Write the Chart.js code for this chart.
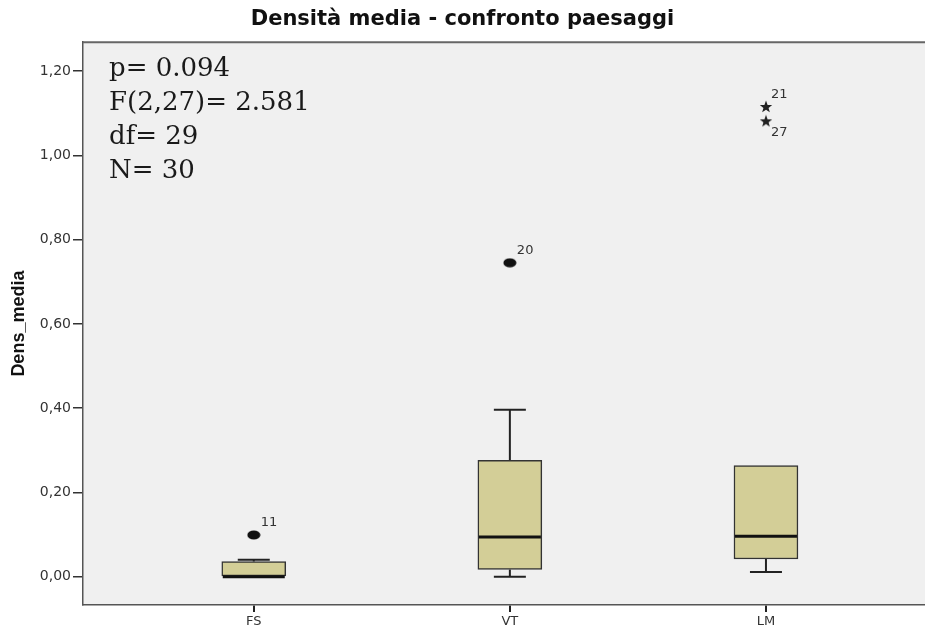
<!DOCTYPE html>
<html>
<head>
<meta charset="utf-8">
<script src="https://cdn.jsdelivr.net/npm/chart.js@4.4.1/dist/chart.umd.min.js"></script>
<style>
html,body{margin:0;padding:0;background:#ffffff;}
canvas{display:block;}
</style>
</head>
<body>
<canvas id="c" width="925" height="627"></canvas>
<script>
// ---- data ----
const categories   = ['FS', 'VT', 'LM'];
const whiskerLow   = [0.000, 0.000, 0.011];
const q1           = [0.000, 0.017, 0.042];
const median       = [0.000, 0.094, 0.096];
const q3           = [0.036, 0.276, 0.264];
const whiskerHigh  = [0.040, 0.396, 0.264];

const outlierCategory = ['FS', 'VT', 'LM', 'LM'];
const outlierValue    = [0.099, 0.745, 1.116, 1.082];
const outlierId       = ['11', '20', '21', '27'];
const outlierKind     = ['circle', 'circle', 'star', 'star'];

const yTicks = [0.0, 0.2, 0.4, 0.6, 0.8, 1.0, 1.2];
const annotationLines = ['p= 0.094', 'F(2,27)= 2.581', 'df= 29', 'N= 30'];
const chartTitle = 'Densità media - confronto paesaggi';
const yTitle = 'Dens_media';

// ---- marker images ----
function makeDot() {
  const c = document.createElement('canvas');
  c.width = 14; c.height = 10;
  const g = c.getContext('2d');
  g.fillStyle = '#111';
  g.beginPath();
  g.ellipse(7, 5, 6.5, 4.5, 0, 0, Math.PI * 2);
  g.fill();
  return c;
}
function makeStar() {
  const c = document.createElement('canvas');
  c.width = 14; c.height = 13;
  const g = c.getContext('2d');
  g.fillStyle = '#222';
  g.beginPath();
  const cx = 7, cy = 7.1, R = 6.5, r = 2.7;
  for (let k = 0; k < 10; k++) {
    const ang = -Math.PI / 2 + k * Math.PI / 5;
    const rad = (k % 2 === 0) ? R : r;
    const px = cx + rad * Math.cos(ang), py = cy + rad * Math.sin(ang);
    if (k === 0) g.moveTo(px, py); else g.lineTo(px, py);
  }
  g.closePath();
  g.fill();
  return c;
}
const dotImg = makeDot();
const starImg = makeStar();

const catIndex = (name) => categories.indexOf(name) + 1;

// ---- custom drawing for box-plot parts ----
const boxParts = {
  id: 'boxParts',
  beforeDraw(chart) {
    const {ctx, chartArea: a} = chart;
    ctx.save();
    ctx.fillStyle = '#f0f0f0';
    ctx.fillRect(a.left, a.top, a.right - a.left, a.bottom - a.top);
    ctx.restore();
  },
  beforeDatasetsDraw(chart) {
    const {ctx, scales: {x, y}} = chart;
    ctx.save();
    ctx.strokeStyle = '#222';
    ctx.lineWidth = 2;
    categories.forEach((c, i) => {
      const cx = x.getPixelForValue(i + 1);
      [[q3[i], whiskerHigh[i]], [q1[i], whiskerLow[i]]].forEach(([from, to]) => {
        if (to === from) return;
        const py0 = y.getPixelForValue(from), py1 = y.getPixelForValue(to);
        ctx.beginPath(); ctx.moveTo(cx, py0); ctx.lineTo(cx, py1); ctx.stroke();
        ctx.beginPath(); ctx.moveTo(cx - 16, py1); ctx.lineTo(cx + 16, py1); ctx.stroke();
      });
    });
    ctx.restore();
  },
  afterDatasetsDraw(chart) {
    const {ctx, chartArea: a, scales: {x, y}} = chart;
    ctx.save();
    // medians
    ctx.strokeStyle = '#111';
    ctx.lineWidth = 3;
    categories.forEach((c, i) => {
      const cx = x.getPixelForValue(i + 1);
      const py = y.getPixelForValue(median[i]);
      ctx.beginPath(); ctx.moveTo(cx - 31, py); ctx.lineTo(cx + 31, py); ctx.stroke();
    });
    // outlier case labels
    ctx.fillStyle = '#333';
    ctx.font = '13px "DejaVu Sans"';
    ctx.textAlign = 'left';
    ctx.textBaseline = 'middle';
    outlierValue.forEach((v, i) => {
      const px = x.getPixelForValue(catIndex(outlierCategory[i]));
      const py = y.getPixelForValue(v);
      const higherNeighbour = outlierValue.some((w, j) => j !== i &&
        outlierCategory[j] === outlierCategory[i] && w > v && w - v < 0.06);
      const dy = higherNeighbour ? 12 : -12;
      const dx = outlierKind[i] === 'star' ? 5 : 7;
      ctx.fillText(outlierId[i], px + dx, py + dy);
    });
    // statistics annotation
    ctx.fillStyle = '#1a1a1a';
    ctx.font = '26px "DejaVu Serif"';
    ctx.textBaseline = 'alphabetic';
    annotationLines.forEach((t, i) => {
      ctx.fillText(t, a.left + 26, a.top + 34 + i * 34);
    });
    ctx.restore();
  },
  afterDraw(chart) {
    const {ctx, chartArea: a} = chart;
    ctx.save();
    ctx.strokeStyle = '#666';
    ctx.lineWidth = 2;
    ctx.beginPath(); ctx.moveTo(a.left, a.top); ctx.lineTo(a.right, a.top); ctx.stroke();
    ctx.restore();
  }
};

new Chart(document.getElementById('c'), {
  type: 'bar',
  data: {
    datasets: [
      {
        type: 'scatter',
        data: outlierValue.map((v, i) => ({x: catIndex(outlierCategory[i]), y: v})),
        pointStyle: outlierKind.map(k => k === 'star' ? starImg : dotImg),
        pointRadius: 5,
        showLine: false
      },
      {
        type: 'bar',
        data: categories.map((c, i) => ({x: i + 1, y: [q1[i], q3[i]]})),
        backgroundColor: '#d3ce97',
        borderColor: '#333',
        borderWidth: 1.5,
        borderSkipped: false,
        barThickness: 64
      }
    ]
  },
  options: {
    responsive: false,
    animation: false,
    events: [],
    layout: {padding: 0, autoPadding: false},
    plugins: {
      legend: {display: false},
      tooltip: {enabled: false},
      title: {
        display: true,
        text: chartTitle,
        color: '#111',
        font: {family: '"DejaVu Sans"', size: 21, weight: 'bold'},
        padding: {top: 7, bottom: 10}
      }
    },
    scales: {
      x: {
        type: 'linear',
        offset: false,
        min: 0.3332,
        max: 3.621,
        afterBuildTicks: (s) => { s.ticks = categories.map((c, i) => ({value: i + 1})); },
        afterFit: (s) => { s.height = 22; s.paddingLeft = 0; s.paddingRight = 0; },
        ticks: {
          callback: (v, idx) => categories[idx],
          color: '#333',
          font: {family: '"DejaVu Sans"', size: 13},
          padding: 2,
          maxRotation: 0,
          autoSkip: false
        },
        grid: {offset: false, drawOnChartArea: false, drawTicks: true, tickLength: 7,
               color: '#222', lineWidth: 2, tickColor: '#222', tickWidth: 2},
        border: {display: true, color: '#555', width: 1.5}
      },
      y: {
        type: 'linear',
        min: -0.0672,
        max: 1.2686,
        afterBuildTicks: (s) => { s.ticks = yTicks.map(v => ({value: v})); },
        afterFit: (s) => { s.width = 83; },
        ticks: {
          callback: (v) => v.toFixed(2).replace('.', ','),
          color: '#333',
          font: {family: '"DejaVu Sans"', size: 14},
          padding: 2
        },
        title: {
          display: true,
          text: yTitle,
          color: '#111',
          font: {family: '"Liberation Sans"', size: 18, weight: 'bold'},
          padding: {top: 8, bottom: 0}
        },
        grid: {drawOnChartArea: false, drawTicks: true, tickLength: 10, color: '#333', lineWidth: 1.5},
        border: {display: true, color: '#555', width: 1.5}
      }
    }
  },
  plugins: [boxParts]
});
</script>
</body>
</html>
